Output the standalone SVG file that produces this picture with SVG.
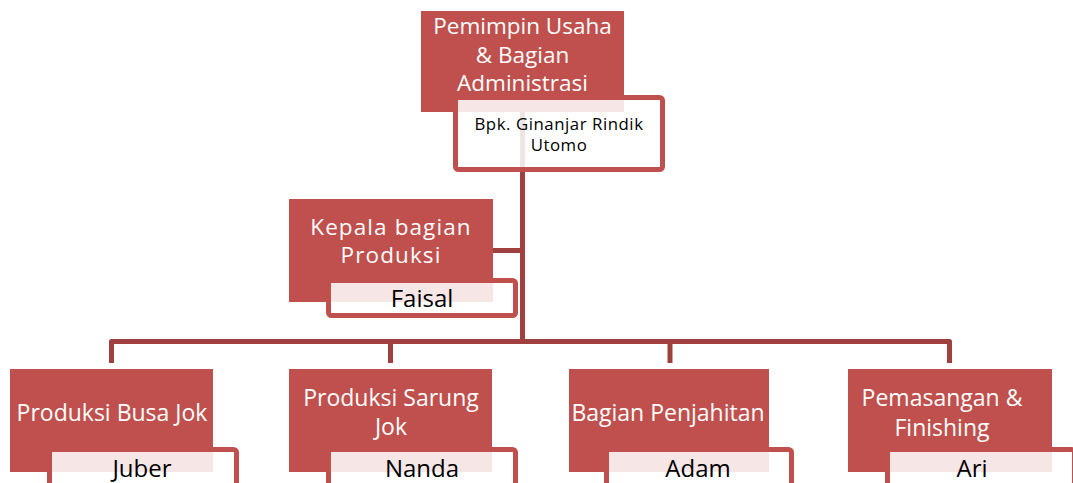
<svg xmlns="http://www.w3.org/2000/svg" width="1073" height="483" viewBox="0 0 1073 483">
<style>
.red{fill:#c0504d;}
.card{fill:#ffffff;fill-opacity:0.86;stroke:#c0504d;stroke-width:5;}
.conn{fill:none;stroke:#9f403e;stroke-width:5;stroke-linejoin:round;}
.wt{fill:#ffffff;font-family:"Open Sans","Liberation Sans",sans-serif;text-anchor:middle;}
.bt{fill:#000000;font-family:"Open Sans","Liberation Sans",sans-serif;text-anchor:middle;}
</style>
<rect width="1073" height="483" fill="#ffffff"/>
<g id="connectors">
<path class="conn" d="M522.5 112 V341.5"/>
<path class="conn" d="M522.5 250.5 H493"/>
<path class="conn" d="M111.5 363 V341.5 H949.5 V363"/>
<path class="conn" d="M390.5 341.5 V363"/>
<path class="conn" d="M670 341.5 V363"/>
</g>
<g id="node-pemimpin">
<rect class="red" x="421" y="11" width="203" height="101"/>
<text class="wt" font-size="22.5"><tspan x="522.5" y="34">Pemimpin Usaha</tspan><tspan x="522.5" y="63">&amp; Bagian</tspan><tspan x="522.5" y="91">Administrasi</tspan></text>
<rect class="card" x="455.5" y="97.5" width="207" height="72" rx="3"/>
<text class="bt" font-size="16.8" letter-spacing="0.55"><tspan x="559" y="129.5">Bpk. Ginanjar Rindik</tspan><tspan x="559" y="150.5">Utomo</tspan></text>
</g>
<g id="node-kepala">
<rect class="red" x="289" y="199" width="204" height="103"/>
<text class="wt" font-size="22.5" letter-spacing="1.1"><tspan x="391" y="234.5">Kepala bagian</tspan><tspan x="391" y="263">Produksi</tspan></text>
<rect class="card" x="328.5" y="280.5" width="187" height="35" rx="3"/>
<text class="bt" x="422" y="307" font-size="24">Faisal</text>
</g>
<g id="node-busa">
<rect class="red" x="10" y="369" width="203" height="103"/>
<text class="wt" x="112" y="421" font-size="23">Produksi Busa Jok</text>
<rect class="card" x="49.5" y="449.5" width="187" height="40" rx="3"/>
<text class="bt" x="142" y="477" font-size="24">Juber</text>
</g>
<g id="node-sarung">
<rect class="red" x="289" y="369" width="203" height="103"/>
<text class="wt" font-size="23"><tspan x="391" y="406">Produksi Sarung</tspan><tspan x="391" y="435">Jok</tspan></text>
<rect class="card" x="328.5" y="449.5" width="187" height="40" rx="3"/>
<text class="bt" x="422" y="477" font-size="24">Nanda</text>
</g>
<g id="node-penjahitan">
<rect class="red" x="569" y="369" width="200" height="103"/>
<text class="wt" x="668" y="421" font-size="23">Bagian Penjahitan</text>
<rect class="card" x="606.5" y="449.5" width="185" height="40" rx="3"/>
<text class="bt" x="698" y="477" font-size="24">Adam</text>
</g>
<g id="node-pemasangan">
<rect class="red" x="848" y="369" width="204" height="103"/>
<text class="wt" font-size="23"><tspan x="942" y="406">Pemasangan &amp;</tspan><tspan x="942" y="436">Finishing</tspan></text>
<rect class="card" x="887.5" y="449.5" width="187" height="40" rx="3"/>
<text class="bt" x="972" y="477" font-size="24">Ari</text>
</g>
</svg>
